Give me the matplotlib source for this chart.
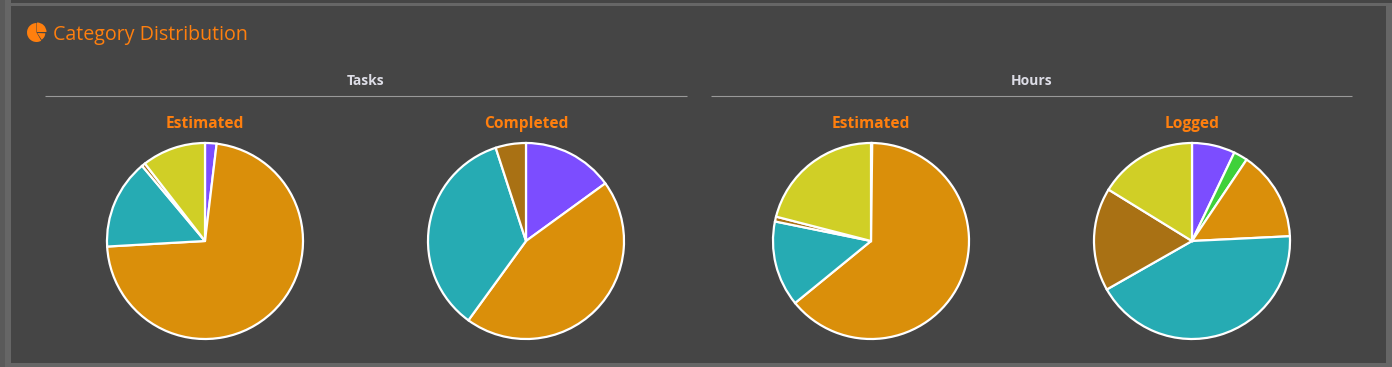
import matplotlib
matplotlib.use("Agg")
import matplotlib.pyplot as plt
from matplotlib.patches import Rectangle, Wedge

plt.rcParams['font.family'] = ['Open Sans', 'DejaVu Sans']

W = 1392
H = 367

title = "Category Distribution"
groups = ["Tasks", "Hours"]
pie_titles = ["Estimated", "Completed", "Estimated", "Logged"]

# percent shares, clockwise from 12 o'clock
tasks_estimated = [1.9, 72.2, 14.8, 0.6, 10.5]
tasks_completed = [15.0, 45.0, 35.0, 5.0]
hours_estimated = [0.2, 63.9, 14.1, 0.8, 21.0]
hours_logged = [7.1, 2.3, 14.8, 42.5, 17.0, 16.2]

purple = "#7C4DFF"
green = "#3FD13A"
orange = "#DA8F0A"
teal = "#26ABB3"
brown = "#A97114"
yellow = "#D0CF26"

bg = "#454545"
frame = "#666666"
accent = "#FF7F0E"

fig = plt.figure(figsize=(W / 100, H / 100), dpi=100, facecolor=frame)

# overlay in pixel coordinates for panel, rules and text
over = fig.add_axes([0, 0, 1, 1])
over.set_xlim(0, W)
over.set_ylim(0, H)
over.axis("off")

over.add_patch(Rectangle((11, H - 3), W - 11, 3, fc=bg, ec="none"))
over.add_patch(Rectangle((11, H - 363), 1375, 357, fc=bg, ec="none"))
over.add_patch(Rectangle((0, 0), 4.5, H, fc="#5A5A5A", ec="none"))

# title icon
over.add_patch(Wedge((36.5, H - 32.5), 9.5, 90, 300, fc=accent, ec="none"))
over.add_patch(Wedge((37, H - 32), 9.5, 0, 90, fc=accent, ec="none"))
over.add_patch(Wedge((37.3, H - 33), 8, 303, 358, fc=accent, ec="none"))

over.text(53, H - 35, title, color=accent, fontsize=14.1, va="center", ha="left")

over.text(366, H - 81, groups[0], color="#DDDDE6", fontsize=10, weight="bold", va="center", ha="center")
over.text(1031.5, H - 81, groups[1], color="#DDDDE6", fontsize=10, weight="bold", va="center", ha="center")
over.plot([45, 687], [H - 96, H - 96], color="#999999", lw=0.8, solid_capstyle="butt")
over.plot([711, 1352], [H - 96, H - 96], color="#999999", lw=0.8, solid_capstyle="butt")


def draw_pie(cx, label, values, colors):
    cy = 241
    size = 216
    ax = fig.add_axes([(cx - size / 2) / W, (H - cy - size / 2) / H, size / W, size / H])
    ax.pie(values, colors=colors, startangle=90, counterclock=False, radius=1,
           wedgeprops={"edgecolor": "white", "linewidth": 1.6})
    ax.set_xlim(-1.102, 1.102)
    ax.set_ylim(-1.102, 1.102)
    over.text(cx, H - 123.5, label, color=accent, fontsize=11.2, weight="bold", va="center", ha="center")


draw_pie(205, pie_titles[0], tasks_estimated, [purple, orange, teal, brown, yellow])
draw_pie(526, pie_titles[1], tasks_completed, [purple, orange, teal, brown])
draw_pie(871, pie_titles[2], hours_estimated, [purple, orange, teal, brown, yellow])
draw_pie(1192, pie_titles[3], hours_logged, [purple, green, orange, teal, brown, yellow])

fig.savefig("out.png", dpi=100, facecolor=frame)
